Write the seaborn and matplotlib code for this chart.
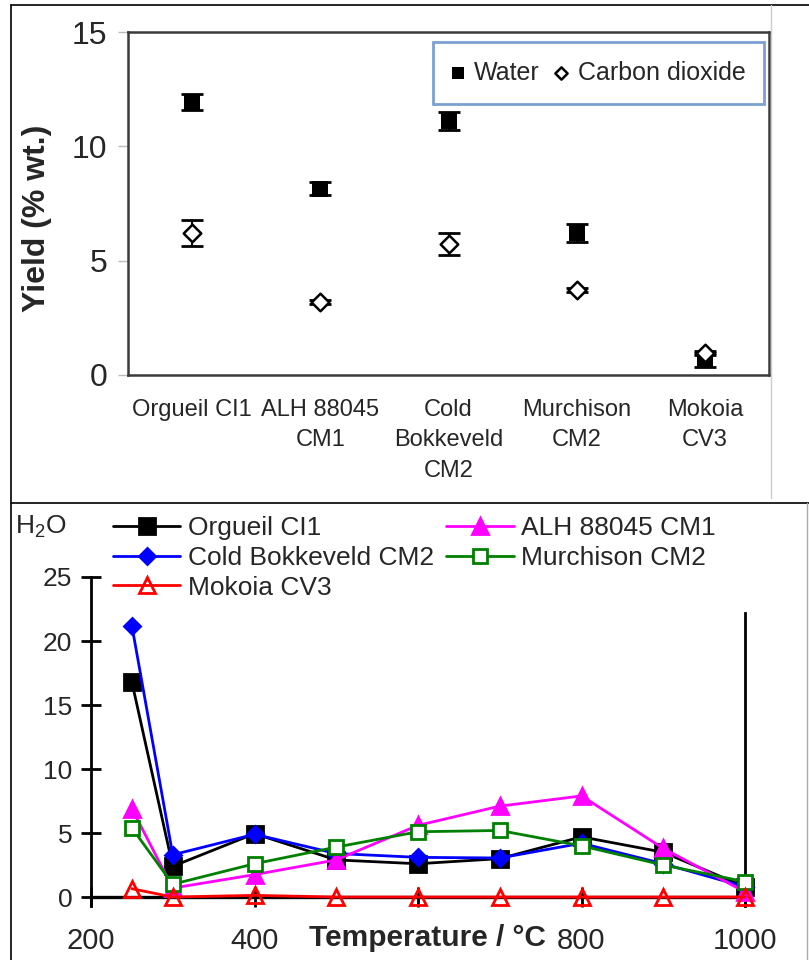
import matplotlib
matplotlib.use("Agg")
import matplotlib.pyplot as plt
from matplotlib.lines import Line2D
import seaborn as sns
import numpy as np

# top panel: yields per meteorite
categories = ["Orgueil CI1", "ALH 88045\nCM1", "Cold\nBokkeveld\nCM2", "Murchison\nCM2", "Mokoia\nCV3"]
water = [11.95, 8.15, 11.1, 6.2, 0.65]
water_err = [0.35, 0.3, 0.4, 0.4, 0.3]
co2 = [6.22, 3.2, 5.73, 3.72, 0.96]
co2_err = [0.58, 0.1, 0.48, 0.1, 0.1]

# bottom panel: H2O release vs temperature
temps = [250, 300, 400, 500, 600, 700, 800, 900, 1000]
orgueil = [16.8, 2.4, 4.95, 2.9, 2.6, 3.0, 4.7, 3.5, 0.8]
cold_bokkeveld = [21.2, 3.3, 4.9, 3.4, 3.1, 3.05, 4.2, 2.6, 0.8]
alh = [6.9, 0.7, 1.75, 2.9, 5.6, 7.1, 7.9, 3.8, 0.4]
murchison = [5.4, 1.0, 2.6, 3.9, 5.1, 5.2, 4.0, 2.5, 1.2]
mokoia = [0.65, 0.0, 0.13, 0.0, 0.0, 0.0, 0.0, 0.0, 0.0]

W, H = 809, 960
sns.set_style("white")
plt.rcParams['font.family'] = ['Liberation Sans', 'DejaVu Sans']
plt.rcParams['mathtext.default'] = 'regular'

fig = plt.figure(figsize=(W / 100, H / 100), dpi=100)


def box(l, t, r, b):
    return [l / W, 1 - b / H, (r - l) / W, (b - t) / H]


# ---------- top panel ----------
ax1 = fig.add_axes(box(128, 32, 769, 375))
x_pos = np.arange(len(categories))
ax1.errorbar(x_pos, water, yerr=water_err, fmt='none', ecolor='black',
             elinewidth=1.5, capsize=8, capthick=2, zorder=2)
ax1.errorbar(x_pos, co2, yerr=co2_err, fmt='none', ecolor='black',
             elinewidth=1.5, capsize=8, capthick=2, zorder=2)
sns.scatterplot(x=x_pos, y=water, marker='s', s=135, color='black',
                edgecolor='black', linewidth=0, ax=ax1, label='Water', zorder=3)
sns.scatterplot(x=x_pos, y=co2, marker='D', s=80, facecolor='white',
                edgecolor='black', linewidth=1.8, ax=ax1, label='Carbon dioxide', zorder=4)

ax1.set_xlim(-0.5, len(categories) - 0.5)
ax1.set_ylim(0, 15)
ax1.set_yticks([0, 5, 10, 15])
ax1.set_xticks(x_pos)
ax1.set_xticklabels(categories, fontsize=17, linespacing=1.5, va='top')
ax1.set_xticks(np.arange(len(categories) + 1) - 0.5, minor=True)
ax1.tick_params(axis='x', which='major', length=0, pad=17)
ax1.tick_params(axis='x', which='minor', length=7, color='#bbbbbb', width=1, direction='out')
ax1.tick_params(axis='y', length=7, color='#bbbbbb', width=1, direction='out',
                labelsize=23, pad=8, left=True)
for sp in ax1.spines.values():
    sp.set_color('#3a3a3a')
    sp.set_linewidth(1.8)
ax1.set_ylabel('Yield (% wt.)', fontsize=23, fontweight='bold')
ax1.yaxis.set_label_coords((52 - 128) / 641, (375 - 218) / 343)

leg1 = ax1.legend(loc='upper right', bbox_to_anchor=((764 - 128) / 641, (375 - 42) / 343),
                  ncol=2, fontsize=18, frameon=True, fancybox=False, borderaxespad=0,
                  handlelength=0.5, handletextpad=0.4, columnspacing=0.6,
                  borderpad=0.75, markerscale=0.7)
leg1.get_frame().set_edgecolor('#5b8ac6')
leg1.get_frame().set_linewidth(2)

# ---------- bottom panel ----------
ax2 = fig.add_axes(box(91, 577, 745, 906))
series = [
    ("Orgueil CI1", orgueil, 'black', 's', 'black', 11),
    ("Cold Bokkeveld CM2", cold_bokkeveld, '#0000ff', 'D', '#0000ff', 8),
    ("ALH 88045 CM1", alh, '#ff00ff', '^', '#ff00ff', 12),
    ("Murchison CM2", murchison, '#008000', 's', 'white', 10),
    ("Mokoia CV3", mokoia, '#ff0000', '^', 'none', 12),
]
for i, (name, vals, col, mk, mfc, ms) in enumerate(series):
    sns.lineplot(x=temps, y=vals, color=col, marker=mk, markersize=ms,
                 markerfacecolor=mfc, markeredgecolor=col, markeredgewidth=2,
                 linewidth=2, ax=ax2, label=name, zorder=3 + i, clip_on=False)

ax2.set_xlim(200, 1000)
ax2.set_ylim(-0.7, 25)
ax2.set_yticks([0, 5, 10, 15, 20, 25])
ax2.set_xticks([200, 400, 600, 800, 1000], labels=['200', '400', '', '800', '1000'])
ax2.spines['bottom'].set_position(('data', 0))
ax2.spines['top'].set_visible(False)
ax2.spines['right'].set_bounds(-0.7, 22.2)
for sp in ax2.spines.values():
    sp.set_color('black')
    sp.set_linewidth(2)
ax2.spines['bottom'].set_linewidth(2.4)
ax2.tick_params(axis='both', direction='inout', length=15, width=2, color='black')
ax2.tick_params(axis='y', labelsize=19, pad=6, left=True, right=False)
ax2.tick_params(axis='x', labelsize=21, pad=14, bottom=True)
ax2.set_xlabel('Temperature / °C', fontsize=21.5, fontweight='bold')
ax2.xaxis.set_label_coords((427 - 91) / 654, -(938 - 906) / 329)
ax2.xaxis.label.set_verticalalignment('center')

handles, labels = ax2.get_legend_handles_labels()
order = [0, 1, 4, 2, 3]
ax2.legend([handles[k] for k in order], [labels[k] for k in order],
           loc='upper left', bbox_to_anchor=(113 / W, 1 - 516 / H),
           bbox_transform=fig.transFigure, ncol=2, fontsize=19, frameon=False,
           borderaxespad=0, borderpad=0, handlelength=2.55, handletextpad=0.3,
           columnspacing=0.45, labelspacing=0.22)
fig.text(15 / W, 1 - 527 / H, 'H$_2$O', fontsize=19, va='center', ha='left')

# panel frame lines
frame = [
    ((11, 11), (5, 960), 'black', 1.2),
    ((11, 809), (5, 5), 'black', 1.2),
    ((11, 809), (503, 503), 'black', 1.2),
    ((771, 771), (5, 498), '#cccccc', 1),
    ((807, 807), (503, 960), '#aaaaaa', 1),
]
for xs, ys, c, lw in frame:
    fig.add_artist(Line2D([x / W for x in xs], [1 - y / H for y in ys],
                          color=c, linewidth=lw, transform=fig.transFigure))

fig.savefig("out.png", dpi=100)
